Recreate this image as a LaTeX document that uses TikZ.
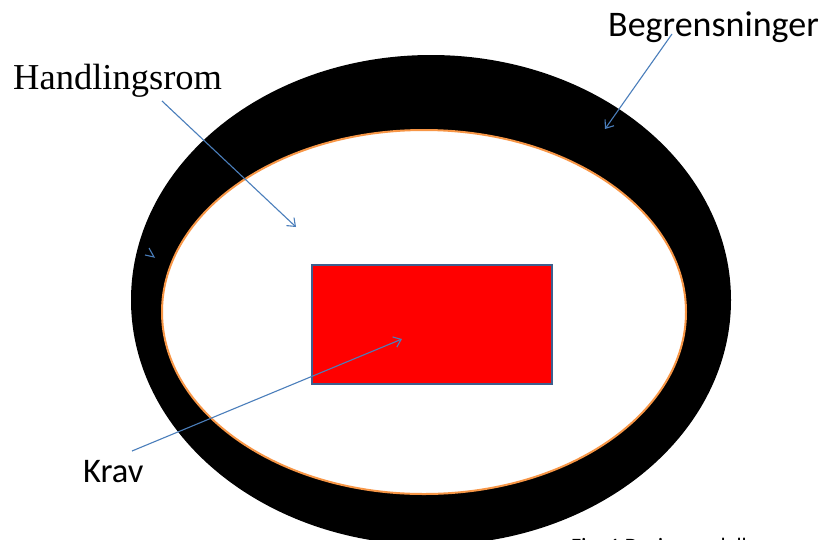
\documentclass[tikz,border=0pt]{standalone}
\usepackage{fontspec}
\setmainfont{Liberation Serif}
\newfontfamily\calfont{Carlito}
\usetikzlibrary{arrows.meta,shapes.geometric}
\definecolor{arrowblue}{HTML}{4A7EBB}
\definecolor{rectblue}{HTML}{3D5F8E}
\definecolor{ringorange}{HTML}{F79646}
\definecolor{boxred}{HTML}{FF0000}
\tikzset{
  ptr/.style={draw=arrowblue, line width=1.1pt, -{Straight Barb[length=7pt,width=11pt,line width=1.1pt]}},
  lbl/.style={anchor=base west, inner sep=0pt, text=black},
}
\begin{document}
\begin{tikzpicture}[x=1pt,y=-1pt]
\useasboundingbox (0,0) rectangle (825,539);
\clip (0,0) rectangle (825,539);
\fill[white] (0,0) rectangle (825,539);
% outer black ring
\node[ellipse, fill=black, draw=none, inner sep=0pt, minimum width=600pt, minimum height=490pt] (outer) at (431,300) {};
% inner white ellipse
\node[ellipse, fill=white, draw=ringorange, line width=2pt, inner sep=0pt, minimum width=524pt, minimum height=364pt] (inner) at (424,312) {};
% red rectangle
\node[rectangle, fill=boxred, draw=rectblue, line width=2pt, inner sep=0pt, minimum width=240pt, minimum height=119pt] (krbox) at (432,324.5) {};
% labels
\node[lbl, font=\fontsize{36.5}{40}\selectfont] (hand) at (13,89) {Handlingsrom};
\node[lbl, font=\calfont\fontsize{36}{40}\selectfont] (begr) at (608,36) {Begrensninger};
\node[lbl, font=\calfont\fontsize{34.5}{38}\selectfont] (krav) at (83,482) {Krav};
\node[lbl, font=\calfont\fontsize{22}{26}\selectfont] (fig) at (571,553) {Fig. 1 Designmodell};
% arrow endpoints
\coordinate (handS) at (162,101);
\coordinate (handE) at (296,227);
\coordinate (begrS) at (672,34);
\coordinate (begrE) at (605,129);
\coordinate (kravS) at (132,451);
\coordinate (kravE) at (402,339);
\coordinate (tickA) at (149,248);
\coordinate (tickB) at (154,257);
\coordinate (tickC) at (145,255);
\draw[ptr] (handS) -- (handE);
\draw[ptr] (begrS) -- (begrE);
\draw[ptr] (kravS) -- (kravE);
\draw[draw=arrowblue, line width=1.1pt] (tickA) -- (tickB) -- (tickC);
\end{tikzpicture}
\end{document}
